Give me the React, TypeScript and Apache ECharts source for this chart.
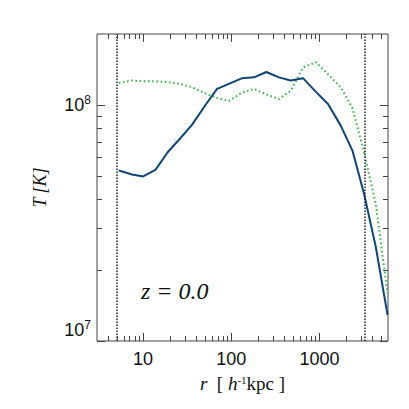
import React, { useEffect, useRef } from "react";
import * as echarts from "echarts";

const rValues = [5.3, 7.5, 10, 13.8, 19, 26, 36, 51, 69, 94, 133, 181, 250, 348, 472, 652, 908, 1253, 1746, 2371, 3214, 4365, 5930];
const tempSolid = [5.28e7, 5.08e7, 4.98e7, 5.31e7, 6.31e7, 7.18e7, 8.26e7, 1.0e8, 1.17e8, 1.23e8, 1.3e8, 1.31e8, 1.38e8, 1.31e8, 1.27e8, 1.3e8, 1.14e8, 1.01e8, 8.18e7, 6.41e7, 4.2e7, 2.5e7, 1.29e7];
const tempDotted = [1.24e8, 1.27e8, 1.26e8, 1.26e8, 1.25e8, 1.23e8, 1.19e8, 1.12e8, 1.07e8, 1.04e8, 1.13e8, 1.17e8, 1.11e8, 1.06e8, 1.15e8, 1.44e8, 1.52e8, 1.35e8, 1.19e8, 9.7e7, 6.3e7, 3.8e7, 1.59e7];
const verticalMarkers = [5, 3300];

const xMin = 3;
const xMax = 6000;
const yMin = 1e7;
const yMax = 2e8;
const xMajorTicks = [10, 100, 1000];
const xMinorTicks = [4, 5, 6, 7, 8, 9, 20, 30, 40, 50, 60, 70, 80, 90, 200, 300, 400, 500, 600, 700, 800, 900, 2000, 3000, 4000, 5000];
const yMajorTicks = [1e7, 1e8];
const yMinorTicks = [2e7, 3e7, 4e7, 5e7, 6e7, 7e7, 8e7, 9e7];
const redshiftLabel = "z = 0.0";

const SERIF = "'Liberation Serif', 'Times New Roman', 'DejaVu Serif', serif";
const SANS = "'Liberation Sans', Arial, Helvetica, sans-serif";

const isPow10 = (v: number) => {
  const l = Math.log10(v);
  return Math.abs(l - Math.round(l)) < 1e-6;
};

export default function App() {
  const ref = useRef<HTMLDivElement>(null);
  useEffect(() => {
    if (!ref.current) return;
    const chart = echarts.init(ref.current, null, { renderer: "svg" });
    const tickData: number[][] = [
      ...xMajorTicks.map((v) => [v, yMin, 8, 0]),
      ...xMinorTicks.map((v) => [v, yMin, 5, 0]),
      ...yMajorTicks.map((v) => [xMin, v, 8, 1]),
      ...yMinorTicks.map((v) => [xMin, v, 5, 1]),
    ];
    const axisColor = "#444";
    chart.setOption({
      animation: false,
      backgroundColor: "#fff",
      grid: {
        left: 97,
        right: 21,
        top: 34,
        bottom: 68,
        show: true,
        borderColor: axisColor,
        borderWidth: 1,
        backgroundColor: "transparent",
      },
      xAxis: {
        type: "log",
        logBase: 10,
        min: xMin,
        max: xMax,
        axisLine: { show: false },
        axisTick: { show: false },
        splitLine: { show: false },
        axisLabel: {
          margin: 9,
          color: "#111",
          fontFamily: SANS,
          fontSize: 18,
          formatter: (v: number) => (isPow10(v) ? String(Math.round(v)) : ""),
        },
        name: "{i|r}  [ {i|h}{s|-1}{n|kpc} ]",
        nameLocation: "middle",
        nameGap: 33,
        nameTextStyle: {
          fontFamily: SERIF,
          fontSize: 19,
          color: "#111",
          rich: {
            i: { fontFamily: SERIF, fontStyle: "italic", fontSize: 19, color: "#111" },
            n: { fontFamily: SERIF, fontSize: 19, color: "#111" },
            s: { fontFamily: SERIF, fontSize: 11, color: "#111", verticalAlign: "top", lineHeight: 19 },
          },
        },
      },
      yAxis: {
        type: "log",
        logBase: 10,
        min: yMin,
        max: yMax,
        axisLine: { show: false },
        axisTick: { show: false },
        splitLine: { show: false },
        axisLabel: {
          margin: 6,
          color: "#111",
          fontFamily: SANS,
          fontSize: 18,
          verticalAlignMinLabel: "bottom",
          formatter: (v: number) => (isPow10(v) ? `{b|10}{s|${Math.round(Math.log10(v))}}` : ""),
          rich: {
            b: { fontFamily: SANS, fontSize: 18, color: "#111", lineHeight: 22 },
            s: { fontFamily: SANS, fontSize: 12, color: "#111", verticalAlign: "top", lineHeight: 12 },
          },
        },
        name: "T [K]",
        nameLocation: "middle",
        nameRotate: 90,
        nameGap: 48,
        nameTextStyle: {
          fontFamily: SERIF,
          fontStyle: "italic",
          fontSize: 18,
          color: "#111",
        },
      },
      series: [
        {
          type: "line",
          data: rValues.map((r, i) => [r, tempDotted[i]]),
          showSymbol: false,
          symbol: "none",
          lineStyle: { color: "#3cb34a", width: 2, type: [1.6, 2.6] },
          z: 2,
        },
        {
          type: "line",
          data: rValues.map((r, i) => [r, tempSolid[i]]),
          showSymbol: false,
          symbol: "none",
          lineStyle: { color: "#0e4474", width: 2 },
          z: 3,
          markLine: {
            silent: true,
            symbol: "none",
            label: { show: false },
            lineStyle: { color: "#222", width: 1.5, type: [1.5, 1.5] },
            data: verticalMarkers.map((v) => ({ xAxis: v })),
          },
        },
        {
          type: "custom",
          silent: true,
          clip: false,
          z: 10,
          encode: { x: 0, y: 1 },
          data: tickData,
          renderItem: (params: any, api: any) => {
            const cs = params.coordSys;
            const len = api.value(2);
            const kind = api.value(3);
            const style = { stroke: axisColor, lineWidth: 1 };
            if (kind === 0) {
              const px = Math.round(api.coord([api.value(0), yMin])[0]) + 0.5;
              const yb = cs.y + cs.height;
              return {
                type: "group",
                children: [
                  { type: "line", shape: { x1: px, y1: yb, x2: px, y2: yb - len }, style },
                  { type: "line", shape: { x1: px, y1: cs.y, x2: px, y2: cs.y + len }, style },
                ],
              };
            }
            const py = Math.round(api.coord([xMin, api.value(1)])[1]) + 0.5;
            const xr = cs.x + cs.width;
            return {
              type: "group",
              children: [
                { type: "line", shape: { x1: cs.x, y1: py, x2: cs.x + len, y2: py }, style },
                { type: "line", shape: { x1: xr, y1: py, x2: xr - len, y2: py }, style },
              ],
            };
          },
        },
      ],
      graphic: [
        {
          type: "text",
          left: 141,
          top: 279,
          style: {
            text: redshiftLabel,
            fontFamily: SERIF,
            fontStyle: "italic",
            fontSize: 24,
            fill: "#111",
          },
        },
      ],
    });
    return () => chart.dispose();
  }, []);
  return (
    <div
      ref={ref}
      style={{ position: "fixed", left: 0, top: 0, width: 409, height: 409, background: "#fff" }}
    />
  );
}
